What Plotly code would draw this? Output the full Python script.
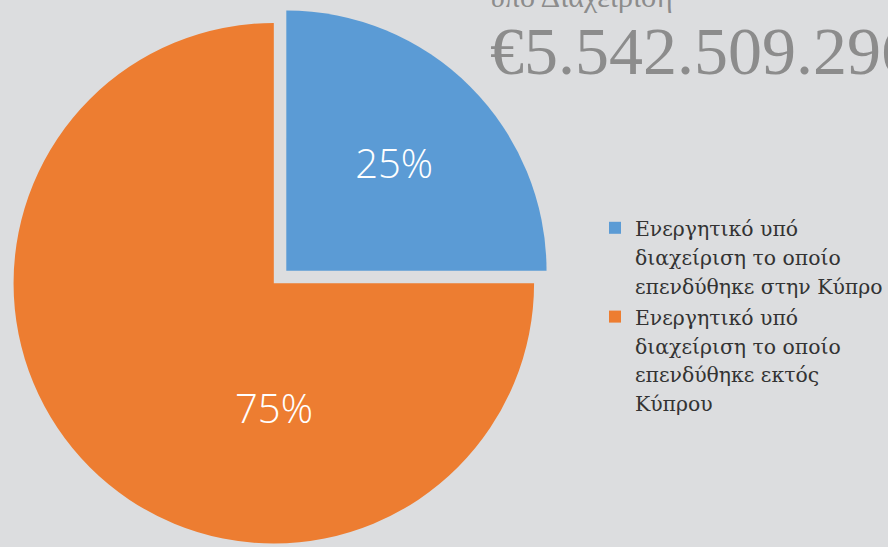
import plotly.graph_objects as go

label_lines = [
    ["Ενεργητικό υπό", "διαχείριση το οποίο", "επενδύθηκε στην Κύπρο"],
    ["Ενεργητικό υπό", "διαχείριση το οποίο", "επενδύθηκε εκτός", "Κύπρου"],
]
values = [25, 75]
colors = ["#5b9bd5", "#ed7d31"]
pulls = [0.0339, 0.0339]
text_positions = ["inside", "none"]
title_line = "υπό Διαχείριση"
total_text = "€5.542.509.296"

W, H = 888, 547
total = sum(values)
pct_font = dict(family="Open Sans", size=40, color="white", weight=300)

labels = [
    "<br>".join(f"<span style='font-size:20.4px'>{ln}</span>" for ln in lines)
    for lines in label_lines
]

fig = go.Figure(go.Pie(
    labels=labels,
    values=values,
    sort=False,
    direction="clockwise",
    rotation=0,
    pull=pulls,
    marker=dict(colors=colors, line=dict(width=0)),
    textinfo="percent",
    texttemplate="%{percent:.0%}",
    textposition=text_positions,
    insidetextorientation="horizontal",
    textfont=pct_font,
    domain=dict(x=[11 / W, 551 / W], y=[0, 540 / H]),
    hoverinfo="percent",
))

# label for the large slice, placed below the pie centre
fig.add_annotation(
    text=f"{values[1] / total:.0%}", xref="paper", yref="paper",
    x=275 / W, y=(H - 407) / H, xanchor="center", yanchor="middle",
    showarrow=False, font=pct_font,
)

fig.add_annotation(
    text=title_line, xref="paper", yref="paper",
    x=490 / W, y=(H - 15) / H, xanchor="left", yanchor="bottom",
    showarrow=False, font=dict(family="Liberation Serif", size=30, color="#8c8c8c"),
)
fig.add_annotation(
    text=total_text, xref="paper", yref="paper",
    x=490 / W, y=(H - 91) / H, xanchor="left", yanchor="bottom",
    showarrow=False, font=dict(family="Liberation Serif", size=68, color="#8c8c8c"),
)

fig.update_layout(
    width=W, height=H,
    margin=dict(l=0, r=0, t=0, b=0),
    paper_bgcolor="#dcdddf",
    plot_bgcolor="#dcdddf",
    showlegend=True,
    legend=dict(
        x=597 / W, y=(H - 207) / H, xanchor="left", yanchor="top",
        font=dict(family="DejaVu Serif", size=22, color="#333333"),
        valign="top", bgcolor="rgba(0,0,0,0)", itemclick=False,
    ),
)

fig.write_html(
    "out.html",
    config={"displayModeBar": False},
    post_script="document.body.style.margin='0';document.body.style.overflow='hidden';",
)
